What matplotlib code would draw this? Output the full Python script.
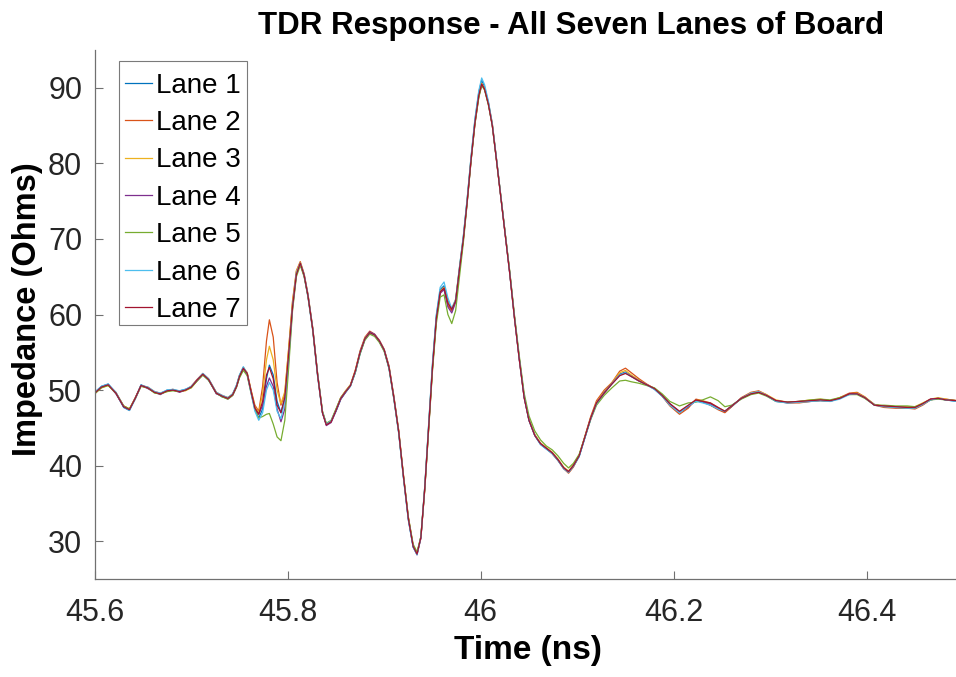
import matplotlib
matplotlib.use("Agg")
import matplotlib.pyplot as plt
from matplotlib.patches import Rectangle

plt.rcParams['font.family'] = ['Liberation Sans', 'DejaVu Sans']

# ---- data ----
time_ns = [
    45.600, 45.607, 45.614, 45.622, 45.630, 45.636, 45.642, 45.648, 45.655, 45.662,
    45.668, 45.675, 45.681, 45.688, 45.694, 45.700, 45.706, 45.712, 45.718, 45.726,
    45.732, 45.738, 45.743, 45.747, 45.750, 45.754, 45.758, 45.762, 45.766, 45.770,
    45.774, 45.778, 45.781, 45.785, 45.789, 45.793, 45.797, 45.801, 45.805, 45.809,
    45.813, 45.817, 45.821, 45.826, 45.831, 45.836, 45.840, 45.845, 45.850, 45.855,
    45.860, 45.865, 45.870, 45.875, 45.880, 45.885, 45.890, 45.895, 45.900, 45.905,
    45.910, 45.915, 45.920, 45.925, 45.930, 45.934, 45.938, 45.942, 45.946, 45.950,
    45.954, 45.958, 45.962, 45.966, 45.970, 45.974, 45.978, 45.982, 45.986, 45.990,
    45.994, 45.998, 46.001, 46.004, 46.008, 46.012, 46.016, 46.020, 46.025, 46.030,
    46.035, 46.040, 46.045, 46.050, 46.056, 46.062, 46.068, 46.074, 46.080, 46.086,
    46.091, 46.096, 46.102, 46.108, 46.114, 46.120, 46.128, 46.136, 46.144, 46.150,
    46.156, 46.164, 46.172, 46.180, 46.188, 46.196, 46.206, 46.215, 46.223, 46.230,
    46.238, 46.246, 46.253, 46.260, 46.270, 46.280, 46.288, 46.296, 46.306, 46.318,
    46.330, 46.342, 46.352, 46.362, 46.372, 46.382, 46.390, 46.398, 46.408, 46.418,
    46.430, 46.442, 46.450, 46.458, 46.466, 46.474, 46.482, 46.493,
]

lane1 = [
    49.7, 50.5, 50.8, 49.6, 47.7, 47.3, 48.9, 50.7, 50.3, 49.7,
    49.5, 50.0, 50.0, 49.9, 50.1, 50.4, 51.2, 52.0, 51.3, 49.6,
    49.1, 48.9, 49.5, 50.6, 51.9, 53.0, 52.1, 49.8, 47.5, 46.3,
    47.5, 51.5, 53.3, 52.0, 48.5, 47.0, 49.0, 55.0, 61.3, 65.5,
    66.8, 65.1, 62.3, 57.8, 51.8, 47.0, 45.5, 45.9, 47.2, 48.8,
    49.7, 50.5, 52.3, 54.8, 56.7, 57.5, 57.3, 56.4, 55.2, 52.8,
    48.8, 44.3, 38.3, 32.8, 29.2, 28.3, 30.6, 37.2, 45.3, 53.3,
    59.8, 63.3, 63.8, 61.8, 60.5, 61.8, 66.2, 70.3, 75.3, 80.8,
    85.7, 89.4, 91.0, 90.1, 88.0, 85.1, 80.9, 76.5, 71.1, 65.6,
    59.6, 54.1, 49.1, 46.0, 44.0, 42.8, 42.2, 41.6, 40.7, 39.6,
    39.1, 39.9, 41.2, 43.7, 46.2, 48.2, 49.6, 50.9, 52.1, 52.4,
    51.9, 51.3, 50.7, 50.1, 49.2, 48.0, 47.0, 47.8, 48.6, 48.4,
    48.0, 47.5, 47.1, 47.8, 48.9, 49.6, 49.8, 49.3, 48.5, 48.3,
    48.4, 48.5, 48.6, 48.5, 48.9, 49.5, 49.6, 49.0, 48.1, 47.8,
    47.7, 47.6, 47.6, 48.1, 48.7, 48.9, 48.7, 48.5,
]
lane2 = [
    49.5, 50.4, 50.7, 49.7, 47.9, 47.5, 49.0, 50.6, 50.4, 49.8,
    49.6, 49.9, 50.1, 49.8, 50.0, 50.5, 51.4, 52.2, 51.5, 49.7,
    49.3, 49.0, 49.4, 50.6, 51.9, 52.9, 52.3, 50.0, 48.0, 47.2,
    50.5, 56.5, 59.3, 57.0, 51.0, 48.0, 49.5, 55.5, 61.8, 65.8,
    67.0, 65.4, 62.7, 58.2, 52.2, 47.2, 45.5, 45.9, 47.4, 49.0,
    49.9, 50.7, 52.6, 55.2, 57.0, 57.8, 57.4, 56.6, 55.4, 53.2,
    49.2, 44.7, 38.7, 33.2, 29.4, 28.4, 30.4, 36.8, 44.8, 52.8,
    59.3, 63.0, 63.4, 61.2, 60.5, 61.9, 66.0, 70.0, 75.0, 80.4,
    85.2, 88.8, 90.4, 89.9, 88.0, 85.3, 81.0, 76.6, 71.2, 65.7,
    59.7, 54.2, 49.2, 46.1, 44.1, 42.9, 42.3, 41.6, 40.7, 39.6,
    39.0, 39.8, 41.3, 43.9, 46.5, 48.6, 50.0, 51.0, 52.5, 52.9,
    52.3, 51.5, 50.8, 50.2, 49.2, 47.9, 46.8, 47.6, 48.8, 48.6,
    48.0, 47.4, 47.0, 47.8, 49.0, 49.7, 49.9, 49.4, 48.6, 48.3,
    48.3, 48.5, 48.6, 48.5, 49.0, 49.6, 49.7, 49.1, 48.0, 47.7,
    47.6, 47.6, 47.5, 48.0, 48.7, 48.9, 48.8, 48.6,
]
lane3 = [
    49.6, 50.3, 50.6, 49.6, 47.9, 47.5, 48.8, 50.5, 50.3, 49.7,
    49.5, 49.8, 50.0, 49.8, 49.9, 50.3, 51.2, 52.0, 51.4, 49.7,
    49.2, 49.0, 49.5, 50.6, 51.9, 53.0, 52.3, 50.0, 47.8, 47.0,
    49.5, 54.0, 55.8, 54.0, 50.0, 48.2, 49.8, 55.5, 61.6, 65.7,
    66.9, 65.3, 62.6, 58.1, 52.1, 47.1, 45.4, 45.8, 47.4, 49.0,
    49.9, 50.7, 52.6, 55.1, 56.9, 57.6, 57.3, 56.5, 55.3, 53.1,
    49.1, 44.6, 38.6, 33.1, 29.4, 28.4, 30.6, 37.1, 45.2, 53.2,
    59.6, 63.1, 63.6, 61.6, 60.8, 62.0, 66.2, 70.2, 75.2, 80.7,
    85.6, 89.2, 90.6, 89.9, 87.9, 85.1, 80.9, 76.5, 71.1, 65.6,
    59.6, 54.1, 49.1, 46.1, 44.1, 43.0, 42.4, 41.8, 40.9, 39.8,
    39.3, 40.1, 41.4, 43.9, 46.4, 48.4, 49.8, 51.0, 52.3, 52.6,
    52.0, 51.3, 50.7, 50.2, 49.3, 48.1, 47.1, 47.9, 48.7, 48.6,
    48.3, 47.7, 47.2, 47.9, 48.9, 49.6, 49.8, 49.4, 48.7, 48.4,
    48.5, 48.7, 48.8, 48.6, 49.0, 49.5, 49.6, 49.1, 48.1, 47.9,
    47.8, 47.8, 47.8, 48.3, 48.8, 49.0, 48.8, 48.6,
]
lane4 = [
    49.6, 50.4, 50.7, 49.5, 47.8, 47.4, 48.9, 50.6, 50.2, 49.7,
    49.4, 49.9, 50.0, 49.7, 50.0, 50.4, 51.3, 52.1, 51.4, 49.5,
    49.2, 48.8, 49.3, 50.4, 51.7, 52.8, 52.1, 49.8, 47.6, 46.8,
    48.0, 50.5, 51.6, 50.5, 47.5, 45.8, 47.5, 54.0, 60.8, 65.3,
    66.7, 65.2, 62.5, 58.0, 52.0, 47.0, 45.3, 45.7, 47.2, 48.8,
    49.7, 50.6, 52.4, 55.0, 56.8, 57.7, 57.4, 56.5, 55.3, 53.0,
    49.0, 44.5, 38.5, 33.0, 29.3, 28.2, 30.4, 36.9, 44.9, 52.9,
    59.4, 62.8, 63.3, 61.0, 60.2, 61.6, 65.8, 69.9, 74.9, 80.4,
    85.3, 88.9, 90.4, 89.8, 87.8, 85.0, 80.8, 76.4, 71.0, 65.5,
    59.5, 54.0, 49.0, 46.0, 44.0, 42.9, 42.3, 41.7, 40.8, 39.7,
    39.2, 40.0, 41.3, 43.8, 46.3, 48.3, 49.7, 50.9, 52.0, 52.3,
    51.8, 51.2, 50.7, 50.2, 49.3, 48.2, 47.1, 47.8, 48.6, 48.5,
    48.2, 47.6, 47.2, 47.9, 48.9, 49.5, 49.7, 49.3, 48.6, 48.4,
    48.5, 48.6, 48.7, 48.6, 48.9, 49.5, 49.5, 49.0, 48.0, 47.9,
    47.8, 47.7, 47.7, 48.2, 48.8, 48.9, 48.7, 48.6,
]
lane5 = [
    49.5, 50.3, 50.6, 49.6, 47.9, 47.5, 48.9, 50.5, 50.3, 49.6,
    49.5, 49.8, 49.9, 49.8, 50.0, 50.3, 51.2, 52.0, 51.3, 49.6,
    49.1, 48.8, 49.3, 50.4, 51.6, 52.6, 51.9, 49.6, 47.4, 46.3,
    46.5, 46.8, 46.9, 45.5, 43.8, 43.3, 46.0, 53.0, 60.5, 65.0,
    66.5, 65.0, 62.4, 58.0, 52.1, 47.2, 45.6, 46.0, 47.5, 49.0,
    49.8, 50.6, 52.3, 54.8, 56.6, 57.4, 57.1, 56.3, 55.1, 52.9,
    48.9, 44.5, 38.6, 33.2, 29.6, 28.6, 30.6, 36.8, 44.7, 52.5,
    58.8, 62.3, 62.6, 60.0, 58.8, 60.5, 65.0, 69.5, 74.8, 80.3,
    85.2, 88.7, 90.3, 89.7, 87.7, 85.0, 80.8, 76.5, 71.2, 65.8,
    59.9, 54.5, 49.6, 46.6, 44.6, 43.4, 42.6, 42.1, 41.3, 40.3,
    39.7, 40.3, 41.5, 43.8, 46.1, 48.0, 49.3, 50.3, 51.2, 51.3,
    51.1, 50.9, 50.6, 50.3, 49.5, 48.5, 47.9, 48.3, 48.4, 48.7,
    49.1, 48.6, 47.8, 48.0, 48.8, 49.4, 49.6, 49.2, 48.5, 48.4,
    48.5, 48.7, 48.8, 48.7, 49.0, 49.4, 49.4, 48.9, 48.0, 48.0,
    47.9, 47.9, 47.8, 48.2, 48.7, 48.8, 48.7, 48.6,
]
lane6 = [
    49.7, 50.5, 50.8, 49.7, 47.8, 47.3, 48.8, 50.6, 50.4, 49.8,
    49.6, 50.0, 50.1, 49.9, 50.1, 50.5, 51.3, 52.2, 51.5, 49.7,
    49.3, 49.0, 49.5, 50.7, 52.0, 53.1, 52.2, 49.6, 47.2, 46.0,
    47.0, 50.0, 51.0, 50.0, 47.2, 46.2, 48.5, 54.5, 61.0, 65.5,
    66.8, 65.3, 62.6, 58.1, 52.1, 47.1, 45.5, 45.9, 47.3, 48.9,
    49.8, 50.6, 52.4, 55.0, 56.8, 57.6, 57.3, 56.5, 55.3, 53.0,
    49.0, 44.4, 38.4, 32.9, 29.2, 28.2, 30.5, 37.2, 45.4, 53.6,
    60.0, 63.6, 64.3, 62.2, 60.8, 62.0, 66.3, 70.4, 75.4, 80.9,
    85.9, 89.6, 91.3, 90.4, 88.2, 85.2, 81.0, 76.6, 71.2, 65.6,
    59.6, 54.1, 49.1, 46.0, 44.0, 42.8, 42.2, 41.6, 40.7, 39.6,
    39.1, 39.9, 41.2, 43.7, 46.2, 48.2, 49.6, 50.8, 52.0, 52.3,
    51.8, 51.2, 50.7, 50.1, 49.2, 48.0, 47.0, 47.9, 48.5, 48.3,
    48.0, 47.5, 47.2, 47.9, 48.9, 49.6, 49.8, 49.3, 48.5, 48.3,
    48.4, 48.5, 48.6, 48.5, 48.8, 49.4, 49.5, 49.0, 48.0, 47.8,
    47.7, 47.6, 47.6, 48.1, 48.7, 48.9, 48.7, 48.5,
]
lane7 = [
    49.6, 50.4, 50.7, 49.6, 47.8, 47.4, 48.9, 50.6, 50.3, 49.7,
    49.5, 49.9, 50.0, 49.8, 50.0, 50.4, 51.3, 52.1, 51.4, 49.6,
    49.2, 48.9, 49.4, 50.5, 51.8, 52.9, 52.2, 49.8, 47.6, 46.8,
    48.5, 52.0, 53.0, 51.5, 48.0, 47.0, 49.0, 54.8, 61.0, 65.3,
    66.8, 65.2, 62.5, 58.0, 52.0, 47.0, 45.4, 45.8, 47.3, 48.9,
    49.8, 50.6, 52.5, 55.0, 56.8, 57.6, 57.3, 56.5, 55.3, 53.0,
    49.0, 44.5, 38.5, 33.0, 29.3, 28.3, 30.5, 37.0, 45.0, 53.0,
    59.5, 63.0, 63.5, 61.5, 60.7, 61.8, 66.0, 70.0, 75.0, 80.5,
    85.4, 89.0, 90.5, 89.8, 87.8, 85.0, 80.8, 76.4, 71.0, 65.5,
    59.5, 54.0, 49.0, 46.0, 44.0, 42.9, 42.3, 41.7, 40.8, 39.7,
    39.2, 40.0, 41.3, 43.8, 46.3, 48.3, 49.6, 50.8, 51.9, 52.2,
    51.8, 51.2, 50.7, 50.2, 49.3, 48.2, 47.2, 48.0, 48.7, 48.5,
    48.3, 47.7, 47.2, 47.9, 48.9, 49.5, 49.7, 49.3, 48.6, 48.4,
    48.5, 48.6, 48.7, 48.6, 48.9, 49.5, 49.5, 49.0, 48.0, 47.9,
    47.8, 47.7, 47.7, 48.2, 48.8, 48.9, 48.7, 48.6,
]

lane_labels = ["Lane 1", "Lane 2", "Lane 3", "Lane 4", "Lane 5", "Lane 6", "Lane 7"]
lanes = [lane1, lane2, lane3, lane4, lane5, lane6, lane7]
x_ticks = [45.6, 45.8, 46.0, 46.2, 46.4]
x_tick_labels = ["45.6", "45.8", "46", "46.2", "46.4"]
y_ticks = [30, 40, 50, 60, 70, 80, 90]

colors = ["#0072BD", "#D95319", "#EDB120", "#7E2F8E", "#77AC30", "#4DBEEE", "#A2142F"]

W, H = 956, 677
fig = plt.figure(figsize=(W / 100, H / 100), dpi=100)
ax_left, ax_right, ax_top, ax_bottom = 94.7, 956, 50, 579
ax = fig.add_axes([ax_left / W, 1 - ax_bottom / H, (ax_right - ax_left) / W, (ax_bottom - ax_top) / H])

for lab, vals, c in zip(lane_labels, lanes, colors):
    ax.plot(time_ns, vals, color=c, lw=0.9, label=lab)

ax.set_xlim(45.6, 46.4925)
ax.set_ylim(25, 95)
ax.set_xticks(x_ticks)
ax.set_xticklabels(x_tick_labels)
ax.set_yticks(y_ticks)

axis_gray = "#707070"
for s in ["top", "right"]:
    ax.spines[s].set_visible(False)
for s in ["left", "bottom"]:
    ax.spines[s].set_color(axis_gray)
    ax.spines[s].set_linewidth(0.9)
ax.tick_params(axis="both", direction="in", length=6, width=0.8, color=axis_gray,
               labelsize=22, labelcolor="#262626")
ax.tick_params(axis="x", pad=14)
ax.tick_params(axis="y", pad=9)

fig.text(571 / W, 1 - 26 / H, "TDR Response - All Seven Lanes of Board",
         ha="center", va="center", fontsize=22.5, fontweight="bold")
fig.text(528 / W, 1 - 650 / H, "Time (ns)", ha="center", va="center",
         fontsize=24, fontweight="bold")
fig.text(28 / W, 1 - 309 / H, "Impedance (Ohms)", ha="center", va="center",
         rotation=90, fontsize=23.5, fontweight="bold")

# legend frame drawn as a separate box (inside the axes' drawing order), entries placed inside
lx0, lx1, ly0, ly1 = 119, 247, 61, 325
frame = Rectangle((lx0 / W, 1 - ly1 / H), (lx1 - lx0) / W, (ly1 - ly0) / H,
                  transform=fig.transFigure, facecolor="white", edgecolor="#7a7a7a",
                  linewidth=0.8, zorder=4, clip_on=False)
ax.add_patch(frame)

leg = ax.legend(loc="upper left", bbox_to_anchor=(lx0 / W, 1 - (ly0 + 6) / H),
                bbox_transform=fig.transFigure, fontsize=20, frameon=False,
                borderpad=0.2, labelspacing=0.41, handlelength=1.0,
                handletextpad=0.15, borderaxespad=0)
leg.set_zorder(5)

fig.savefig("out.png", dpi=100)
